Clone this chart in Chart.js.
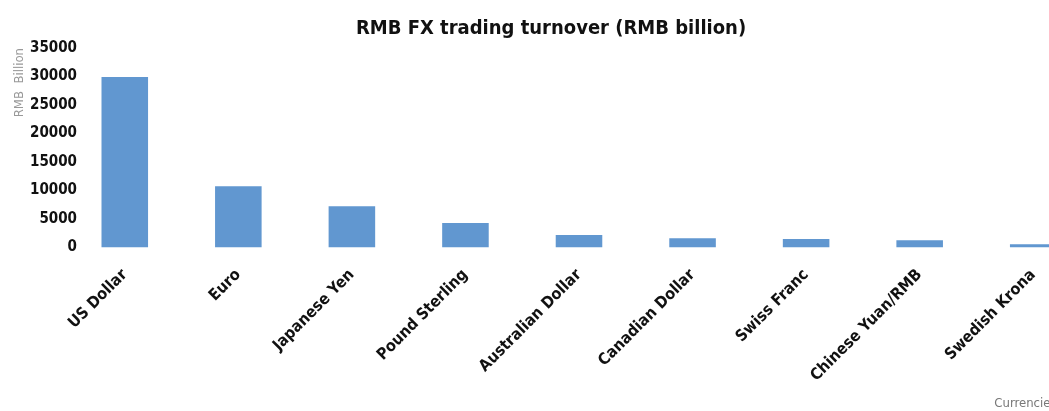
<!DOCTYPE html>
<html lang="en">
<head>
    <meta charset="UTF-8">
    <title>RMB FX trading turnover</title>
    <script src="https://cdn.jsdelivr.net/npm/chart.js"></script>
    <style>
        html, body {
            margin: 0;
            padding: 0;
            overflow: hidden;
            background: #fff;
        }
        #chartBox {
            width: 1100px;
            height: 411px;
        }
    </style>
</head>
<body>
    <div id="chartBox">
        <canvas id="fxChart"></canvas>
    </div>

    <script>
        // values (RMB billion)
        const currencies = ['US Dollar', 'Euro', 'Japanese Yen', 'Pound Sterling', 'Australian Dollar',
                            'Canadian Dollar', 'Swiss Franc', 'Chinese Yuan/RMB', 'Swedish Krona'];
        const turnover = [29900, 10750, 7250, 4300, 2200, 1650, 1500, 1300, 600];
        const yTicks = [0, 5000, 10000, 15000, 20000, 25000, 30000, 35000];

        const narrow = "'Liberation Sans Narrow', 'DejaVu Sans Condensed', Arial, sans-serif";
        const tickFont = { family: narrow, size: 15, weight: 'bold' };

        const ctx = document.getElementById('fxChart').getContext('2d');

        // y labels sit over the plot's left edge (like the original), so measure the widest one
        ctx.font = 'bold 15px ' + narrow;
        const widest = ctx.measureText('35000').width;
        const padLeft = 12;
        const yAxisWidth = 56;   // plot area starts at about x=68
        const labelRight = 77;   // right edge of the y tick labels

        new Chart(ctx, {
            type: 'bar',
            data: {
                labels: currencies,
                datasets: [{
                    label: 'Turnover',
                    data: turnover,
                    backgroundColor: '#6197d0',
                    categoryPercentage: 1,
                    barPercentage: 0.41
                }]
            },
            options: {
                responsive: true,
                maintainAspectRatio: false,
                animation: false,
                layout: {
                    padding: { left: padLeft, right: 10, top: 17, bottom: 0 }
                },
                plugins: {
                    legend: { display: false },
                    tooltip: { enabled: false },
                    title: {
                        display: true,
                        text: 'RMB FX trading turnover (RMB billion)',
                        color: '#111',
                        font: { family: narrow, size: 20, weight: 'bold' },
                        padding: { top: 0, bottom: 7 }
                    }
                },
                scales: {
                    x: {
                        grid: { display: false, drawTicks: false },
                        border: { display: false },
                        ticks: {
                            color: '#111',
                            font: { family: narrow, size: 16, weight: 'bold' },
                            maxRotation: 45,
                            minRotation: 45,
                            autoSkip: false,
                            padding: 18
                        },
                        title: {
                            display: true,
                            text: 'Currencies' + '\u00a0'.repeat(9),
                            align: 'end',
                            color: '#777',
                            font: { family: narrow, size: 13 },
                            padding: { top: -8, bottom: 0 }
                        }
                    },
                    y: {
                        min: 0,
                        max: 35000,
                        afterBuildTicks: axis => {
                            axis.ticks = yTicks.map(v => ({ value: v }));
                        },
                        afterFit: axis => {
                            axis.width = yAxisWidth;
                        },
                        grid: { display: false, drawTicks: false },
                        border: { display: false },
                        ticks: {
                            color: '#111',
                            font: tickFont,
                            mirror: true,
                            crossAlign: 'far',
                            padding: labelRight - (padLeft + yAxisWidth) - widest,
                            callback: value => String(value)
                        },
                        title: {
                            display: true,
                            text: 'RMB  Billion',
                            align: 'end',
                            color: '#999',
                            font: { family: narrow, size: 13 },
                            padding: { top: 0, bottom: 0 }
                        }
                    }
                }
            }
        });
    </script>
</body>
</html>
